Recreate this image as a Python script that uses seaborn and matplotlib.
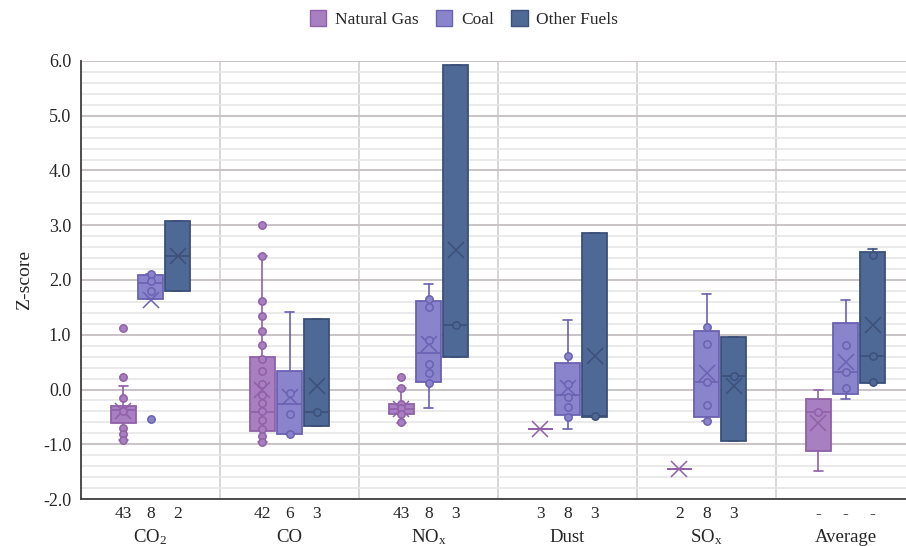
import numpy as np
import matplotlib
matplotlib.use("Agg")
import matplotlib.pyplot as plt
from matplotlib.patches import Patch
from matplotlib.ticker import MultipleLocator, FormatStrFormatter
import seaborn as sns

# categories and fuels
pollutants = ["CO$_2$", "CO", "NO$_\\mathrm{x}$", "Dust", "SO$_\\mathrm{x}$", "Average"]
fuels = ["Natural Gas", "Coal", "Other Fuels"]

# sample sizes shown under each box
gas_n = ["43", "42", "43", "3", "2", "-"]
coal_n = ["8", "6", "8", "8", "8", "-"]
other_n = ["2", "3", "3", "3", "3", "-"]

# box statistics (Z-score)
gas_q1 = [-0.61, -0.75, -0.45, -0.72, -1.46, -1.12]
gas_med = [-0.37, -0.42, -0.36, -0.72, -1.46, -0.42]
gas_q3 = [-0.31, 0.60, -0.26, -0.72, -1.46, -0.17]
gas_lo = [-0.93, -0.95, -0.62, -0.72, -1.46, -1.49]
gas_hi = [0.07, 2.44, 0.02, -0.72, -1.46, 0.00]
gas_mean = [-0.40, 0.00, -0.35, -0.72, -1.46, -0.61]
gas_pts = [
    [1.12, 0.22, -0.15, -0.40, -0.70, -0.82, -0.93],
    [3.00, 2.44, 1.62, 1.34, 1.06, 0.81, 0.56, 0.33, 0.10, -0.10, -0.25,
     -0.40, -0.56, -0.72, -0.85, -0.95],
    [0.22, 0.02, -0.26, -0.33, -0.45, -0.60],
    [],
    [],
    [-0.42],
]

coal_q1 = [1.66, -0.82, 0.14, -0.46, -0.51, -0.08]
coal_med = [1.94, -0.26, 0.67, -0.10, 0.14, 0.32]
coal_q3 = [2.09, 0.33, 1.62, 0.49, 1.07, 1.21]
coal_lo = [1.66, -0.82, -0.33, -0.72, -0.57, -0.18]
coal_hi = [2.11, 1.42, 1.92, 1.27, 1.74, 1.63]
coal_mean = [1.64, -0.13, 0.84, 0.03, 0.31, 0.51]
coal_pts = [
    [2.11, 1.98, 1.79, -0.54],
    [-0.06, -0.44, -0.82],
    [1.65, 1.51, 0.90, 0.46, 0.31, 0.11],
    [0.62, 0.10, -0.13, -0.32, -0.50],
    [1.14, 0.83, 0.14, -0.28, -0.58],
    [0.81, 0.32, 0.03],
]

other_q1 = [1.79, -0.66, 0.60, -0.51, -0.94, 0.12]
other_med = [2.43, -0.41, 1.18, -0.49, 0.25, 0.62]
other_q3 = [3.08, 1.28, 5.93, 2.85, 0.95, 2.52]
other_lo = [1.79, -0.66, 0.60, -0.51, -0.94, 0.12]
other_hi = [3.08, 1.28, 5.93, 2.85, 0.95, 2.57]
other_mean = [2.43, 0.06, 2.55, 0.61, 0.07, 1.17]
other_pts = [
    [],
    [-0.41],
    [1.18],
    [-0.49],
    [0.25],
    [2.45, 0.62, 0.13],
]

fills = ["#a87fc0", "#8a84cc", "#4f6996"]
edges = ["#9060a8", "#6a62b2", "#3c5079"]

sns.set_style("white")
plt.rcParams["font.family"] = ["Liberation Serif", "DejaVu Serif"]
plt.rcParams["mathtext.fontset"] = "custom"
plt.rcParams["mathtext.rm"] = "Liberation Serif"
plt.rcParams["mathtext.it"] = "Liberation Serif:italic"

fig = plt.figure(figsize=(9.06, 5.46), dpi=100)
ax = fig.add_axes([81 / 906, 47 / 546, 834 / 906, 438 / 546])

series = [
    (gas_q1, gas_med, gas_q3, gas_lo, gas_hi, gas_mean, gas_pts, gas_n),
    (coal_q1, coal_med, coal_q3, coal_lo, coal_hi, coal_mean, coal_pts, coal_n),
    (other_q1, other_med, other_q3, other_lo, other_hi, other_mean, other_pts, other_n),
]
offsets = [-0.195, 0.0, 0.195]
box_w = 0.18

tick_pos = []
tick_lab = []
for k, (q1, med, q3, lo, hi, mean, pts, n) in enumerate(series):
    stats = []
    pos = []
    for i in range(len(pollutants)):
        stats.append(dict(q1=q1[i], med=med[i], q3=q3[i], whislo=lo[i],
                          whishi=hi[i], mean=mean[i], fliers=[]))
        pos.append(i + offsets[k])
    ax.bxp(stats, positions=pos, widths=box_w, showmeans=True, patch_artist=True,
           capwidths=0.07, manage_ticks=False,
           boxprops=dict(facecolor=fills[k], edgecolor=edges[k], linewidth=1.3),
           medianprops=dict(color=edges[k], linewidth=1.2),
           whiskerprops=dict(color=edges[k], linewidth=1.2),
           capprops=dict(color=edges[k], linewidth=1.2),
           meanprops=dict(marker="x", markersize=11, markeredgecolor=edges[k],
                          markeredgewidth=1.1))
    for i in range(len(pollutants)):
        if pts[i]:
            ax.scatter([pos[i]] * len(pts[i]), pts[i], s=28, facecolor=fills[k],
                       edgecolor=edges[k], linewidth=1.1, zorder=4)
        tick_pos.append(pos[i])
        tick_lab.append(n[i])

ax.set_xlim(-0.5, 5.5)
ax.set_ylim(-2.0, 6.0)

# count labels under each box
ax.set_xticks(tick_pos, tick_lab, fontsize=12.5)
ax.tick_params(axis="x", which="major", length=0, pad=5)
# category separators
ax.set_xticks(np.arange(-0.5, 6.0, 1.0), minor=True)
ax.tick_params(axis="x", which="minor", length=9, direction="inout",
               width=1.2, color="#404040")
for i, name in enumerate(pollutants):
    ax.text(i, -0.087, name, transform=ax.get_xaxis_transform(),
            ha="center", va="center", fontsize=13.5)

ax.yaxis.set_major_locator(MultipleLocator(1.0))
ax.yaxis.set_minor_locator(MultipleLocator(0.2))
ax.yaxis.set_major_formatter(FormatStrFormatter("%.1f"))
ax.tick_params(axis="y", which="major", length=8, direction="inout", width=1.2,
               color="#404040", labelsize=13, pad=3)
ax.tick_params(axis="y", which="minor", length=0)
ax.set_ylabel("Z-score", fontsize=14)
ax.yaxis.set_label_coords(-0.058, 0.5)

ax.yaxis.grid(True, which="major", color="#c9c2c6", linewidth=1.4)
ax.yaxis.grid(True, which="minor", color="#e6e6e6", linewidth=1.2)
ax.xaxis.grid(True, which="minor", color="#cfcfcf", linewidth=1.2)
ax.xaxis.grid(False, which="major")
ax.set_axisbelow(True)

for side in ["top", "right"]:
    ax.spines[side].set_visible(False)
for side in ["left", "bottom"]:
    ax.spines[side].set_color("#404040")
    ax.spines[side].set_linewidth(1.3)

handles = [Patch(facecolor=fills[k], edgecolor=edges[k], linewidth=1.0) for k in range(3)]
fig.legend(handles, fuels, loc="center", bbox_to_anchor=(464 / 906, 1 - 19 / 546),
           ncol=3, frameon=False, fontsize=12.5, handlelength=0.95, handleheight=1.0,
           handletextpad=0.5, columnspacing=1.0)

fig.savefig("out.png", dpi=100)
